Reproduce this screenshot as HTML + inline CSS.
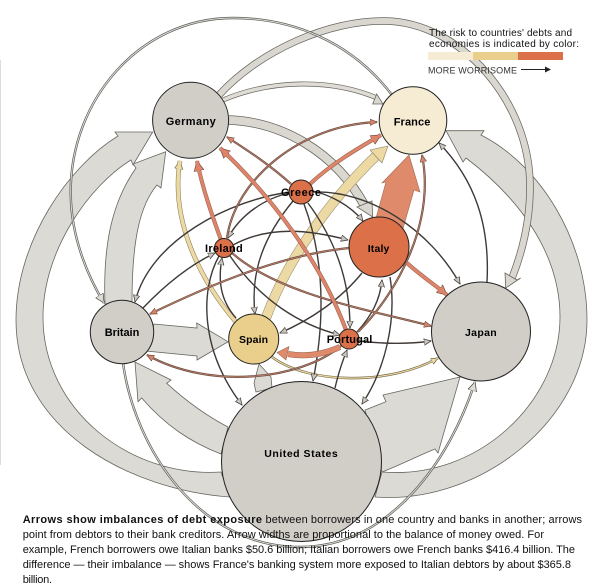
<!DOCTYPE html>
<html><head><meta charset="utf-8"><style>
html,body{margin:0;padding:0;background:#fff}
svg{display:block}
text{font-family:"Liberation Sans",Arial,sans-serif}
.n{font-weight:bold;font-size:11px;fill:#000}
.b{font-size:11px;fill:#111}
.l{font-size:10px;fill:#111}
.band{fill:#d9d7d0;stroke:#66665f;stroke-width:.8}
</style></head><body>
<svg width="601" height="588" viewBox="0 0 601 588" xmlns="http://www.w3.org/2000/svg">
<defs>
<marker id="mg" markerUnits="userSpaceOnUse" markerWidth="10" markerHeight="10" refX="7" refY="3.5" orient="auto"><path d="M0,0.3L7,3.5L0,6.7Z" fill="#c9c6bf" stroke="#4a4440" stroke-width=".8"/></marker>
<marker id="mo" markerUnits="userSpaceOnUse" markerWidth="13" markerHeight="13" refX="10" refY="5.5" orient="auto"><path d="M0,.5L10,5.5L0,10.5Z" fill="#df8468" stroke="#6d4a3d" stroke-width=".7"/></marker>
<marker id="mb" markerUnits="userSpaceOnUse" markerWidth="10" markerHeight="10" refX="7" refY="3.5" orient="auto"><path d="M0,.3L7,3.5L0,6.7Z" fill="#df8468" stroke="#6d4a3d" stroke-width=".7"/></marker>
<marker id="mt" markerUnits="userSpaceOnUse" markerWidth="10" markerHeight="10" refX="7" refY="3.5" orient="auto"><path d="M0,.3L7,3.5L0,6.7Z" fill="#edd9a4" stroke="#6a6040" stroke-width=".7"/></marker>
<marker id="mT" markerUnits="userSpaceOnUse" markerWidth="12" markerHeight="12" refX="8" refY="4.5" orient="auto"><path d="M0,.3L8,4.5L0,8.7Z" fill="#edd9a4" stroke="#6a6040" stroke-width=".7"/></marker>
<marker id="mw" markerUnits="userSpaceOnUse" markerWidth="12" markerHeight="12" refX="9" refY="5" orient="auto"><path d="M0,.5L9,5L0,9.5Z" fill="#dedcd5" stroke="#55524c" stroke-width=".8"/></marker>
<g id="dbl" fill="none">
<path d="M392,95C350,40 290,18 233,18C140,18 70,100 70.7,193C71,240 90,280 104,303"/>
<path d="M123,363C135,450 200,547 300,547C390,547 450,460 475,382"/>
</g>
<g id="org" fill="none">
<path d="M221,240C212,215 203,190 197,161"/>
<path d="M346,330C320,260 270,195 220,148"/>
<path d="M310,184C330,165 355,150 381,135"/>
<path d="M407,263C420,275 435,285 447,295"/>
</g>
<g id="brn" fill="none">
<path d="M291,184C270,165 250,152 227,137"/>
<path d="M227,238C235,180 300,125 377,122"/>
<path d="M358,332C400,290 435,220 422,155"/>
<path d="M232,253C280,295 370,310 431,326"/>
<path d="M349,248C280,255 210,285 150,314"/>
<path d="M341,346C300,380 210,390 147,355"/>
</g>
<g id="gry" fill="none">
<path d="M487,282C490,225 475,180 439,143"/>
<path d="M313,191C330,195 350,205 363,221"/>
<path d="M313,192C370,190 430,230 460,284"/>
<path d="M293,201C265,235 250,270 255,314"/>
<path d="M308,203C335,240 350,280 350,328"/>
<path d="M304,204C325,260 325,320 313,381"/>
<path d="M290,192C230,200 150,240 135,302"/>
<path d="M290,193C265,198 240,215 228,238"/>
<path d="M233,245C270,225 310,230 348,240"/>
<path d="M143,308C165,285 190,265 215,253"/>
<path d="M236,318C220,300 218,280 222,258"/>
<path d="M219,256C200,290 200,350 242,405"/>
<path d="M230,256C260,300 300,325 340,335"/>
<path d="M362,273C340,300 310,320 280,333"/>
<path d="M357,332C372,315 380,300 382,280"/>
<path d="M390,277C397,320 385,370 362,404"/>
<path d="M359,341C385,344 410,344 431,341"/>
<path d="M335,388C338,375 342,362 347,350"/>
</g>
</defs>

<rect x="0" y="60" width="1" height="405" fill="#dcdcdc"/>

<!-- big bands -->
<g fill-opacity=".92">
<path class="band" d="M230,497C130,490 16,430 16,320C16,240 70,165 118,136L115,132L152.7,132L133,165L131,160C90,185 43,250 43,317C43,410 130,478 221,472Z"/>
<path class="band" d="M105,304C103,250 110,205 136,168L133,164L165.7,151.7L161,188L157,185C140,205 132,240 132,302Z"/>
<path class="band" d="M375,497C480,505 587,420 587,320C587,240 540,165 481,135L484,130.7L446,130.7L463,162L466,158C515,195 560,250 560,317C560,400 480,480 382,472Z"/>
<path class="band" d="M365,410L386,401.7L383,395L460,377L438,453L435,449C420,455 400,465 382,472Z"/>
<path class="band" d="M228,427C205,415 185,400 166.7,383.3L171,380L135,362L138,401.7L141.7,398C165,425 190,442 221,454Z"/>
<path class="band" d="M154,324L197,328L196.7,323L228,341.7L197,360L197,356L146,351Z"/>
<path class="band" d="M259,364L271,377L272,388L256,392L254,383Z"/>
</g>

<!-- Germany to Japan / France / Italy -->
<path d="M219,95C260,50 330,20 385,21C460,22 530,100 530,187C530,215 525,245 512,278" fill="none" stroke="#66665f" stroke-width="7.5"/>
<path d="M219,95C260,50 330,20 385,21C460,22 530,100 530,187C530,215 525,245 512,278" fill="none" stroke="#d9d7d0" stroke-width="6"/>
<path class="band" d="M505.7,288L505,273L510,276L517,280L520.7,278Z"/>
<path d="M223,100C270,80 330,78 377,98" fill="none" stroke="#66665f" stroke-width="5"/>
<path d="M223,100C270,80 330,78 377,98" fill="none" stroke="#dedcd5" stroke-width="3.6"/>
<path class="band" d="M383,104L376.7,94L372.7,104Z"/>
<path d="M229,120C280,122 335,150 366,208" fill="none" stroke="#66665f" stroke-width="9.5"/>
<path d="M229,120C280,122 335,150 366,208" fill="none" stroke="#d9d7d0" stroke-width="8"/>
<path class="band" d="M372.7,217L372,201L357,207Z"/>

<use href="#dbl" stroke="#5d5c57" stroke-width="2.4" marker-end="url(#mw)"/>
<use href="#dbl" stroke="#dfddd7" stroke-width="1"/>

<!-- Italy to France -->
<path d="M376,218L386,182L382,183L409,155L420,192L414,190L402,232Z" fill="#e08a6c" stroke="#a06a55" stroke-width=".6"/>

<!-- Spain to France -->
<path d="M266,318C285,265 325,205 377,155" fill="none" stroke="#8c8260" stroke-width="10"/>
<path d="M266,318C285,265 325,205 377,155" fill="none" stroke="#edd9a4" stroke-width="9"/>
<path d="M388,146L370,150L382,163Z" fill="#edd9a4" stroke="#8c8260" stroke-width=".6"/>

<!-- tan thin -->
<path d="M236,322C200,280 170,220 180,161" fill="none" stroke="#7d7350" stroke-width="4.6" marker-end="url(#mT)"/>
<path d="M236,322C200,280 170,220 180,161" fill="none" stroke="#edd9a4" stroke-width="3.6"/>
<path d="M272,357C310,385 390,385 438,358" fill="none" stroke="#6a6040" stroke-width="2.4" marker-end="url(#mt)"/>
<path d="M272,357C310,385 390,385 438,358" fill="none" stroke="#edd9a4" stroke-width="1.2"/>

<use href="#gry" stroke="#3f3a37" stroke-width="1.4" marker-end="url(#mg)"/>
<use href="#brn" stroke="#6d4f44" stroke-width="2.2" marker-end="url(#mb)"/>
<use href="#brn" stroke="#c9856d" stroke-width=".7"/>
<use href="#org" stroke="#8a5c4b" stroke-width="4" marker-end="url(#mo)"/>
<use href="#org" stroke="#df8468" stroke-width="3"/>

<!-- Portugal to Spain -->
<path d="M340,347C322,355 305,357 288,354" fill="none" stroke="#9a6450" stroke-width="6"/>
<path d="M340,347C322,355 305,357 288,354" fill="none" stroke="#e08a6c" stroke-width="5"/>
<path d="M277,352.5L289,346.5L286,360Z" fill="#e08a6c" stroke="#9a6450" stroke-width=".6"/>

<!-- nodes -->
<g stroke="#222" stroke-width="1">
<circle cx="190.6" cy="120.3" r="38" fill="#d0cec6"/>
<circle cx="413" cy="120.5" r="33.8" fill="#f6ecd4"/>
<circle cx="379" cy="247" r="30" fill="#db7049"/>
<circle cx="301" cy="192" r="12" fill="#db7049"/>
<circle cx="224" cy="248" r="9.5" fill="#db7049"/>
<circle cx="253.7" cy="339" r="25" fill="#e9cf8b"/>
<circle cx="349" cy="339" r="10" fill="#db7049"/>
<circle cx="122" cy="332" r="31.7" fill="#d0cec6"/>
<circle cx="481" cy="331.5" r="49.5" fill="#d0cec6"/>
<circle cx="301.5" cy="461.5" r="80" fill="#d0cec6"/>
</g>

<!-- node labels -->
<text class="n" x="165.7" y="125" textLength="50" lengthAdjust="spacing">Germany</text>
<text class="n" x="393.7" y="125.5" textLength="36.7" lengthAdjust="spacing">France</text>
<text class="n" x="281" y="196" textLength="40" lengthAdjust="spacing">Greece</text>
<text class="n" x="205" y="252" textLength="37.7" lengthAdjust="spacing">Ireland</text>
<text class="n" x="367.7" y="252" textLength="21.7" lengthAdjust="spacing" style="font-size:10.5px">Italy</text>
<text class="n" x="239" y="343" textLength="29" lengthAdjust="spacing" style="font-size:10.5px">Spain</text>
<text class="n" x="326.7" y="343" textLength="45.6" lengthAdjust="spacing">Portugal</text>
<text class="n" x="104.7" y="336" textLength="34.6" lengthAdjust="spacing">Britain</text>
<text class="n" x="465" y="336" textLength="31.7" lengthAdjust="spacing" style="font-size:10.5px">Japan</text>
<text class="n" x="264.3" y="457" textLength="73.4" lengthAdjust="spacing" style="font-size:10.5px">United States</text>

<!-- legend -->
<text class="l" x="429" y="36" textLength="143" lengthAdjust="spacing">The risk to countries' debts and</text>
<text class="l" x="429" y="47" textLength="150" lengthAdjust="spacing">economies is indicated by color:</text>
<rect x="428" y="52" width="45" height="8" fill="#f6ecd4"/>
<rect x="473" y="52" width="45" height="8" fill="#e9cf8b"/>
<rect x="518" y="52" width="45" height="8" fill="#db7049"/>
<text class="l" x="428" y="73.5" textLength="89" lengthAdjust="spacing" style="fill:#333;font-size:9px">MORE WORRISOME</text>
<path d="M521,69.5H546" stroke="#222" stroke-width="1"/>
<path d="M545,66.5L551,69.5L545,72.5Z" fill="#222"/>

<!-- caption -->
<text class="b" x="22.7" y="523" textLength="239.3" lengthAdjust="spacing" font-weight="bold">Arrows show imbalances of debt exposure</text>
<text class="b" x="265.5" y="523" textLength="316.5" lengthAdjust="spacing">between borrowers in one country and banks in another; arrows</text>
<text class="b" x="22.7" y="538" textLength="521.3" lengthAdjust="spacing">point from debtors to their bank creditors. Arrow widths are proportional to the balance of money owed. For</text>
<text class="b" x="22.7" y="553" textLength="552.3" lengthAdjust="spacing">example, French borrowers owe Italian banks $50.6 billion; Italian borrowers owe French banks $416.4 billion. The</text>
<text class="b" x="22.7" y="568" textLength="548.3" lengthAdjust="spacing">difference — their imbalance — shows France's banking system more exposed to Italian debtors by about $365.8</text>
<text class="b" x="22.7" y="583" textLength="29.3" lengthAdjust="spacing">billion.</text>
</svg>
</body></html>
